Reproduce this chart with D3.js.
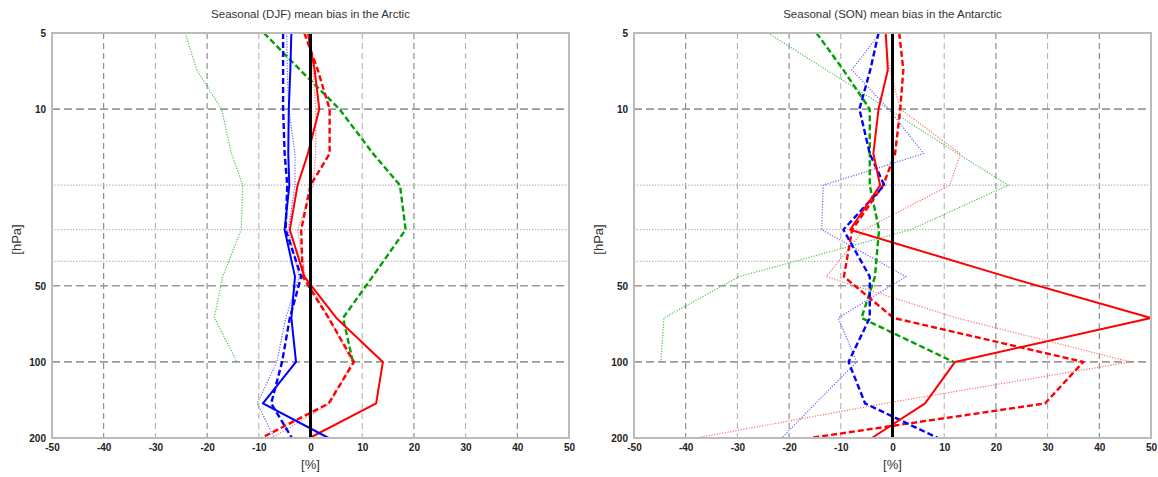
<!DOCTYPE html>
<meta charset="utf-8">
<style>
body { margin: 0; background: #fff; }
svg { font-family: "Liberation Sans", Arial, sans-serif; }
.title { font-size: 11.5px; fill: #333; }
.tick text { font-size: 10px; font-weight: bold; fill: #222; }
.axisLabel { font-size: 13px; fill: #333; }
</style>
<svg width="1158" height="477"></svg>
<script src="https://cdn.jsdelivr.net/npm/d3@7"></script>
<script>

// pressure levels [hPa]
const levels = [5, 7, 10, 15, 20, 30, 46, 67, 100, 146, 200];

const xTicks = [-50, -40, -30, -20, -10, 0, 10, 20, 30, 40, 50];
const yTickLabels = [5, 10, 50, 100, 200];
const yMajorGrid = [10, 50, 100];
const yMinorGrid = [20, 30, 40];

// Arctic DJF bias [%]
const arcBlueSolid  = [-3.7, -3.9, -4.2, -4.3, -4.1, -5.0, -3.0, -3.7, -2.8, -9.2, 3.5];
const arcBlueDash   = [-5.3, -5.3, -5.3, -5.0, -4.5, -4.8, -1.8, -4.0, -5.5, -7.6, -3.6];
const arcBlueDot    = [-4.6, -4.5, -4.2, -3.0, -3.0, -4.3, -2.2, -4.8, -6.5, -10.3, -7.0];
const arcRedSolid   = [-0.5, 0.8, 1.7, -0.5, -2.5, -4.0, -1.2, 5.0, 14.0, 12.7, -0.2];
const arcRedDash    = [-1.2, 1.4, 3.7, 3.7, 0.0, -1.8, -1.5, 3.5, 8.4, 3.5, -9.5];
const arcRedDot     = [-0.5, 0.5, 1.0, 1.0, 0.5, -2.5, -1.0, 3.5, 8.0, 3.8, -7.5];
const arcGreenDash  = [-9.0, -2.0, 5.6, 12.1, 17.3, 18.4, 12.0, 6.3, 8.2];
const arcGreenDot   = [-24.2, -22.0, -17.2, -15.3, -13.1, -13.4, -17.0, -18.6, -14.2];

// Antarctic SON bias [%]
const antBlueDash   = [-2.7, -4.3, -6.4, -4.4, -1.6, -9.5, -4.4, -4.4, -8.5, -5.3, 8.8];
const antBlueDot    = [-2.4, -7.9, -0.7, 6.0, -13.4, -13.7, 2.6, -10.5, -6.9, -14.9, -21.4];
const antRedSolid   = [-1.3, -0.9, -2.7, -3.7, -2.4, -8.2, 22.0, 50.0, 12.1, 6.3, -4.0];
const antRedDash    = [1.3, 2.1, 1.5, 0.5, -1.8, -7.8, -9.4, 0.2, 36.9, 29.5, -16.0];
const antRedDot     = [-1.6, -0.5, 1.5, 13.1, 11.1, -5.5, -12.8, 12.4, 46.0, -1.5, -38.0];
const antGreenDash  = [-14.7, -9.5, -4.4, -4.4, -4.4, -2.6, -3.4, -6.0, 11.8];
const antGreenDot   = [-24.1, -12.8, -0.8, 12.6, 22.4, 3.5, -29.7, -44.2, -44.8];

const styles = {
  blueSolid:  {stroke: "#0000ff", width: 2, dash: null},
  blueDash:   {stroke: "#0000ff", width: 2.4, dash: "6,3"},
  blueDot:    {stroke: "#6464ff", width: 1.2, dash: "1.2,1.5"},
  redSolid:   {stroke: "#ff0000", width: 2, dash: null},
  redDash:    {stroke: "#ff0000", width: 2.4, dash: "6,3"},
  redDot:     {stroke: "#ff6e6e", width: 1.2, dash: "1.2,1.5"},
  greenDash:  {stroke: "#00a000", width: 2.4, dash: "6,3"},
  greenDot:   {stroke: "#4cc24c", width: 1.2, dash: "1.2,1.5"}
};

const panels = [
  {title: "Seasonal (DJF) mean bias in the Arctic", left: 52, series: [
    ["greenDot", arcGreenDot], ["blueDot", arcBlueDot], ["redDot", arcRedDot],
    ["greenDash", arcGreenDash], ["redDash", arcRedDash], ["blueDash", arcBlueDash],
    ["redSolid", arcRedSolid], ["blueSolid", arcBlueSolid]]},
  {title: "Seasonal (SON) mean bias in the Antarctic", left: 634, series: [
    ["greenDot", antGreenDot], ["blueDot", antBlueDot], ["redDot", antRedDot],
    ["greenDash", antGreenDash], ["redDash", antRedDash], ["blueDash", antBlueDash],
    ["redSolid", antRedSolid]]}
];

const svg = d3.select("svg");
const marginTop = 33, width = 517, height = 405;

const x = d3.scaleLinear().domain([-50, 50]).range([0, width]);
const y = d3.scaleLog().domain([5, 200]).range([0, height]);

const line = d3.line()
    .x(d => x(d[1]))
    .y(d => y(d[0]));

panels.forEach(p => {
  const g = svg.append("g").attr("transform", `translate(${p.left},${marginTop})`);

  //grid
  g.selectAll(".vgrid").data(xTicks.filter(v => v > -50 && v < 50))
    .enter().append("line")
      .attr("x1", d => x(d)).attr("x2", d => x(d))
      .attr("y1", 0).attr("y2", height)
      .attr("stroke", (d, i) => i % 2 ? "#aaa" : "#777")
      .attr("stroke-width", 1)
      .attr("stroke-dasharray", "6,4");
  g.selectAll(".hminor").data(yMinorGrid)
    .enter().append("line")
      .attr("x1", 0).attr("x2", width)
      .attr("y1", d => y(d)).attr("y2", d => y(d))
      .attr("stroke", "#bbb")
      .attr("stroke-width", 1.2)
      .attr("stroke-dasharray", "1.5,1.5");
  g.selectAll(".hmajor").data(yMajorGrid)
    .enter().append("line")
      .attr("x1", 0).attr("x2", width)
      .attr("y1", d => y(d)).attr("y2", d => y(d))
      .attr("stroke", "#999")
      .attr("stroke-width", 1.6)
      .attr("stroke-dasharray", "8,4");

  //series
  p.series.forEach(([key, vals]) => {
    const st = styles[key];
    g.append("path")
      .datum(vals.map((v, i) => [levels[i], v]))
      .attr("d", line)
      .attr("fill", "none")
      .attr("stroke", st.stroke)
      .attr("stroke-width", st.width)
      .attr("stroke-dasharray", st.dash)
      .attr("stroke-linejoin", "round");
  });

  //zero line
  g.append("line")
    .attr("x1", x(0)).attr("x2", x(0))
    .attr("y1", 0).attr("y2", height)
    .attr("stroke", "#000")
    .attr("stroke-width", 3);

  //frame
  g.append("rect")
    .attr("width", width).attr("height", height)
    .attr("fill", "none")
    .attr("stroke", "#bbb")
    .attr("stroke-width", 2);

  //axes
  g.append("g")
    .attr("transform", `translate(0,${height})`)
    .call(d3.axisBottom(x).tickValues(xTicks).tickSize(0).tickPadding(6).tickFormat(d => String(d)))
    .call(a => a.select(".domain").remove());
  g.append("g")
    .call(d3.axisLeft(y).tickValues(yTickLabels).tickSize(0).tickPadding(6).tickFormat(d => String(d)))
    .call(a => a.select(".domain").remove());

  g.append("text").attr("class", "title")
    .attr("x", width / 2).attr("y", -15)
    .attr("text-anchor", "middle")
    .text(p.title);
  g.append("text").attr("class", "axisLabel")
    .attr("x", x(0)).attr("y", height + 31)
    .attr("text-anchor", "middle")
    .text("[%]");
  g.append("text").attr("class", "axisLabel")
    .attr("transform", `translate(-31,${height / 2 + 4}) rotate(-90)`)
    .attr("text-anchor", "middle")
    .text("[hPa]");
});

</script>
